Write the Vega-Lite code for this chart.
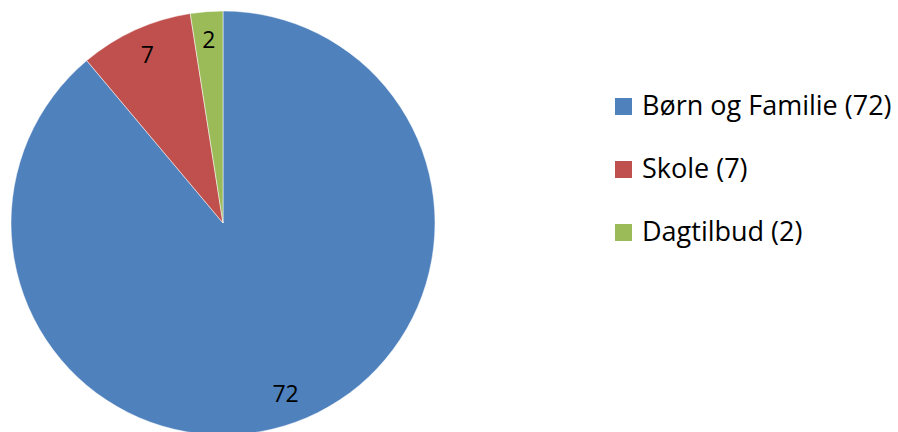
{
  "$schema": "https://vega.github.io/schema/vega-lite/v6.json",
  "width": 446,
  "height": 446,
  "padding": 0,
  "autosize": {"type": "pad"},
  "background": "white",
  "config": {"view": {"stroke": null}},
  "data": {
    "values": [
      {"kategori": "Børn og Familie (72)", "antal": 72, "rk": 1},
      {"kategori": "Skole (7)", "antal": 7, "rk": 2},
      {"kategori": "Dagtilbud (2)", "antal": 2, "rk": 3}
    ]
  },
  "encoding": {
    "theta": {"field": "antal", "type": "quantitative", "stack": true},
    "order": {"field": "rk", "type": "quantitative"}
  },
  "layer": [
    {
      "mark": {"type": "arc", "outerRadius": 212, "stroke": "white", "strokeWidth": 0.5},
      "encoding": {
        "color": {
          "field": "kategori",
          "type": "nominal",
          "sort": ["Børn og Familie (72)", "Skole (7)", "Dagtilbud (2)"],
          "scale": {
            "domain": ["Børn og Familie (72)", "Skole (7)", "Dagtilbud (2)"],
            "range": ["#4F81BD", "#C0504D", "#9BBB59"]
          },
          "legend": {
            "orient": "none",
            "legendX": 610,
            "legendY": 93,
            "title": null,
            "symbolType": "square",
            "symbolSize": 289,
            "symbolStrokeWidth": 0,
            "labelFontSize": 27,
            "labelFont": "Open Sans",
            "labelColor": "black",
            "labelOffset": 5,
            "rowPadding": 35,
            "labelLimit": 400
          }
        }
      }
    },
    {
      "mark": {"type": "text", "radius": 183, "fontSize": 23, "font": "Open Sans", "color": "black"},
      "encoding": {
        "text": {"field": "antal", "type": "quantitative"},
        "detail": {"field": "kategori", "type": "nominal"}
      }
    }
  ]
}
